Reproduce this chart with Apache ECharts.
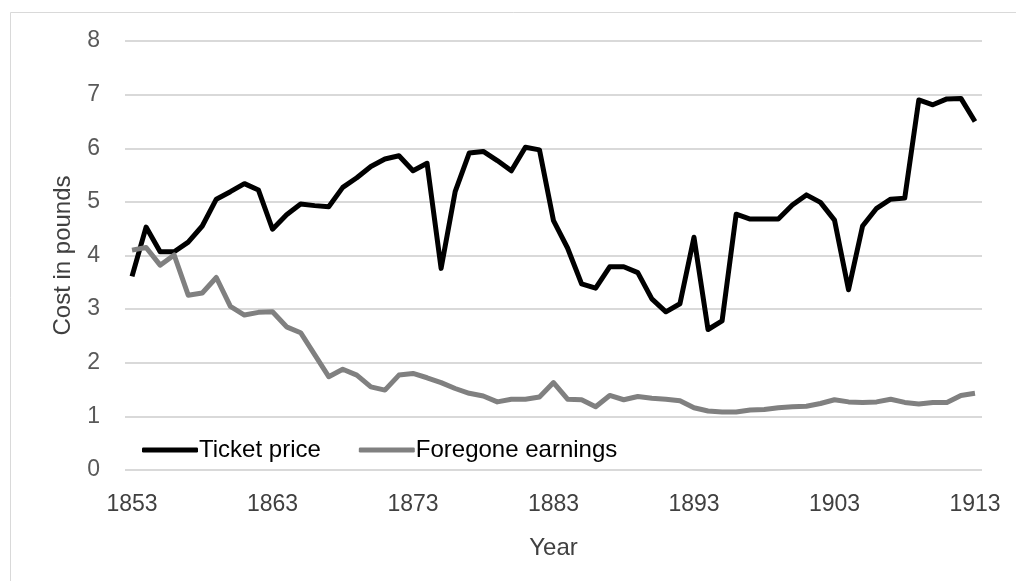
<!DOCTYPE html>
<html>
<head>
<meta charset="utf-8">
<script src="https://cdn.jsdelivr.net/npm/echarts@6/dist/echarts.min.js"></script>
<style>
  html, body { margin: 0; padding: 0; background: #fff; }
  #chart { width: 1016px; height: 581px; }
</style>
</head>
<body>
<div id="chart"></div>
<script>
var years = [];
for (var y = 1853; y <= 1913; y++) years.push(String(y));

// Ticket price, pounds
var ticketPrice = [
    3.61, 4.53, 4.07, 4.07, 4.25, 4.55, 5.05, 5.19, 5.34, 5.22,
    4.49, 4.76, 4.96, 4.93, 4.91, 5.27, 5.45, 5.66, 5.80, 5.86,
    5.58, 5.72, 3.76, 5.19, 5.91, 5.94, 5.77, 5.58, 6.02, 5.97,
    4.65, 4.14, 3.47, 3.39, 3.79, 3.79, 3.68, 3.19, 2.95, 3.10,
    4.34, 2.62, 2.78, 4.77, 4.68, 4.68, 4.68, 4.94, 5.13, 4.99,
    4.66, 3.36, 4.55, 4.88, 5.05, 5.07, 6.90, 6.81, 6.92, 6.93,
    6.50
];

// Foregone earnings, pounds
var foregoneEarnings = [
    4.10, 4.15, 3.82, 4.01, 3.26, 3.30, 3.59, 3.05, 2.89, 2.94,
    2.95, 2.67, 2.56, 2.15, 1.74, 1.88, 1.77, 1.55, 1.49, 1.77,
    1.80, 1.72, 1.63, 1.52, 1.43, 1.38, 1.27, 1.32, 1.32, 1.36,
    1.63, 1.32, 1.31, 1.18, 1.39, 1.31, 1.37, 1.34, 1.32, 1.29,
    1.16, 1.10, 1.08, 1.08, 1.12, 1.13, 1.16, 1.18, 1.19, 1.24,
    1.31, 1.27, 1.26, 1.27, 1.32, 1.26, 1.23, 1.26, 1.26, 1.39,
    1.43
];

var font = 'Liberation Sans';

var chart = echarts.init(document.getElementById('chart'));
var option = {
    animation: false,
    backgroundColor: '#fff',
    graphic: [{
        type: 'rect',
        shape: { x: 10.5, y: 12.5, width: 1100, height: 700 },
        style: { fill: 'none', stroke: '#d9d9d9', lineWidth: 1 },
        silent: true
    }],
    grid: { left: 125, right: 34, top: 41, bottom: 111 },
    legend: {
        left: 137,
        top: 433,
        itemWidth: 56,
        itemHeight: 5,
        itemGap: 38,
        icon: 'roundRect',
        textStyle: { fontFamily: font, fontSize: 24, color: '#000', padding: [0, 0, 0, -4] },
        data: ['Ticket price', 'Foregone earnings']
    },
    xAxis: {
        type: 'category',
        data: years,
        boundaryGap: true,
        name: 'Year',
        nameLocation: 'middle',
        nameGap: 66,
        nameTextStyle: { fontFamily: font, fontSize: 24, color: '#404040' },
        axisLine: { show: false },
        axisTick: { show: false },
        axisLabel: {
            interval: 9,
            margin: 23,
            fontFamily: font,
            fontSize: 23,
            color: '#404040'
        },
        splitLine: { show: false }
    },
    yAxis: {
        type: 'value',
        min: 0,
        max: 8,
        interval: 1,
        name: 'Cost in pounds',
        nameLocation: 'middle',
        nameGap: 50,
        nameTextStyle: { fontFamily: font, fontSize: 24, color: '#404040' },
        axisLine: { show: false },
        axisTick: { show: false },
        axisLabel: { margin: 25, fontFamily: font, fontSize: 23, color: '#595959' },
        splitLine: { lineStyle: { color: '#d9d9d9', width: 2 } }
    },
    series: [
        {
            name: 'Ticket price',
            type: 'line',
            data: ticketPrice,
            symbol: 'none',
            color: '#000',
            lineStyle: { width: 5, color: '#000', join: 'round' }
        },
        {
            name: 'Foregone earnings',
            type: 'line',
            data: foregoneEarnings,
            symbol: 'none',
            color: '#808080',
            lineStyle: { width: 5, color: '#808080', join: 'round' }
        }
    ]
};
chart.setOption(option);

window.onresize = function () {
    chart.resize();
};
</script>
</body>
</html>
